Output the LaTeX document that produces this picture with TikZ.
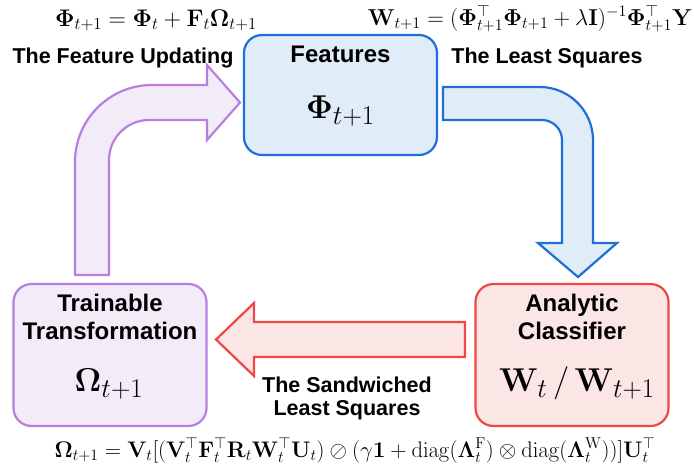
\RequirePackage{fix-cm}
\documentclass[tikz,border=0pt]{standalone}
\usepackage{amsmath,amssymb}
\usepackage[no-math]{fontspec}
\setmainfont{Liberation Sans}
\usetikzlibrary{positioning,calc}
\newcommand{\bsub}[1]{\mbox{\fontsize{27}{30}\selectfont$#1$}}

\definecolor{featline}{HTML}{1F6FD8}
\definecolor{featfill}{HTML}{E1ECF9}
\definecolor{trainline}{HTML}{B67FE0}
\definecolor{trainfill}{HTML}{F2EBF8}
\definecolor{clsline}{HTML}{EF4646}
\definecolor{clsfill}{HTML}{FCE5E5}

\begin{document}
\begin{tikzpicture}[
  x=1pt, y=-1pt,
  box/.style={draw, rounded corners=18pt, line width=2.2pt, minimum width=193pt, minimum height=142pt},
  title/.style={font=\fontsize{24}{28}\selectfont\bfseries, align=center},
  big/.style={font=\fontsize{33}{36}\selectfont, anchor=base},
  lab/.style={font=\fontsize{21.5}{23}\selectfont\bfseries, align=center},
  eq/.style={font=\fontsize{#1}{24}\selectfont, anchor=base},
  barrow/.style={line width=2.2pt, line join=miter},
]
\useasboundingbox (0,0) rectangle (694,472);

% the three blocks
\node[box, draw=featline, fill=featfill, minimum height=120pt] (feat) at (340.5,95) {};
\node[box, draw=trainline, fill=trainfill] (train) at (110,355) {};
\node[box, draw=clsline, fill=clsfill] (clf) at (572,355) {};

\node[title, anchor=base] (feattxt) at ($(feat.north)+(0,29)$) {Features};
\node[big] (featsym) at ($(feat.north)+(0,85)$) {$\mathbf{\Phi}_{\bsub{t{+}1}}$};
\node[title] (traintxt) at ($(train.north)+(0,34)$) {Trainable\\Transformation};
\node[big] (trainsym) at ($(train.north)+(-1,109)$) {$\mathbf{\Omega}_{\bsub{t{+}1}}$};
\node[title] (clftxt) at ($(clf.north)+(0,34)$) {Analytic\\Classifier};
\node[big] (clfsym) at ($(clf.north)+(5,109)$) {$\mathbf{W}_{\bsub{t}}\,/\,\mathbf{W}_{\bsub{t{+}1}}$};

% block arrows
\draw[barrow, draw=featline, fill=featfill] (443,87) -- (540,87)
  .. controls (569,87) and (593,111) .. (593,140) -- (593,243) -- (617,243)
  -- (578,277) -- (538,243) -- (562,243) -- (562,140)
  .. controls (562,129) and (553,120) .. (542,120) -- (443,120) -- cycle;
\draw[barrow, draw=clsline, fill=clsfill] (465,322) -- (254,322) -- (254,303)
  -- (216,339.5) -- (254,376) -- (254,357) -- (465,357) -- cycle;
\draw[barrow, draw=trainline, fill=trainfill] (75,275) -- (75,162)
  .. controls (75,119.5) and (109.5,85) .. (152,85) -- (207,85) -- (207,65)
  -- (240,102.5) -- (207,140) -- (207,120) -- (149,120)
  .. controls (127,120) and (109,138) .. (109,160) -- (109,275) -- cycle;

% labels and equations
\node[lab, anchor=base] (lblfu) at (123,63) {The Feature Updating};
\node[lab, anchor=base] (lblls) at (547,63) {The Least Squares};
\node[lab] (lblsw) at (347,398) {The Sandwiched\\Least Squares};
\node[eq=24] (eqphi) at (156,26) {$\mathbf{\Phi}_{t+1} = \mathbf{\Phi}_t + \mathbf{F}_t\mathbf{\Omega}_{t+1}$};
\node[eq=23] (eqw) at (530,25) {$\mathbf{W}_{t+1} = (\mathbf{\Phi}_{t+1}^{\top}\mathbf{\Phi}_{t+1} + \lambda\mathbf{I})^{-1}\mathbf{\Phi}_{t+1}^{\top}\mathbf{Y}$};
\node[eq=22.5] (eqom) at (355,457) {$\mathbf{\Omega}_{t+1} = \mathbf{V}_t[(\mathbf{V}_t^{\top}\mathbf{F}_t^{\top}\mathbf{R}_t\mathbf{W}_t^{\top}\mathbf{U}_t) \oslash (\gamma\mathbf{1} + \operatorname{diag}(\mathbf{\Lambda}_t^{\mathrm{F}}) \otimes \operatorname{diag}(\mathbf{\Lambda}_t^{\mathrm{W}}))]\mathbf{U}_t^{\top}$};
\end{tikzpicture}
\end{document}
